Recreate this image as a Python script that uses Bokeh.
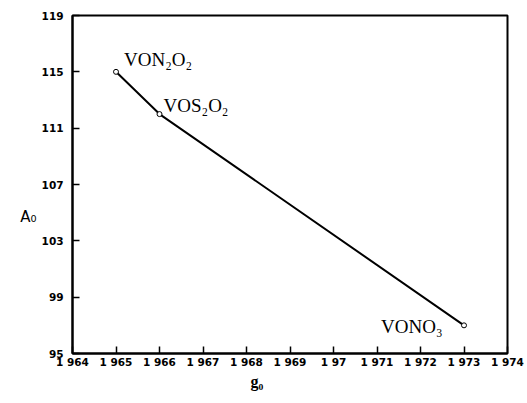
from bokeh.plotting import figure
from bokeh.models import FixedTicker, Label, Range1d, Title
from bokeh.embed import file_html
from bokeh.resources import INLINE

g0 = [1.965, 1.966, 1.973]
A0 = [115, 112, 97]
names = ["VON\u2082O\u2082", "VOS\u2082O\u2082", "VONO\u2083"]

x_ticks = [1.964, 1.965, 1.966, 1.967, 1.968, 1.969, 1.970, 1.971, 1.972, 1.973, 1.974]
x_tick_labels = ["1 964", "1 965", "1 966", "1 967", "1 968", "1 969", "1 97", "1 971", "1 972", "1 973", "1 974"]
y_ticks = [95, 99, 103, 107, 111, 115, 119]

p = figure(width=527, height=403, output_backend="svg", toolbar_location=None,
           x_range=Range1d(1.964, 1.974), y_range=Range1d(95, 119))
p.min_border_left = 72
p.min_border_right = 20
p.min_border_top = 15
p.min_border_bottom = 50
p.background_fill_color = "white"
p.border_fill_color = "white"
p.outline_line_color = "black"
p.outline_line_width = 2
p.grid.visible = False

for ax in (p.xaxis[0], p.yaxis[0]):
    ax.axis_line_width = 2
    ax.major_tick_in = 7
    ax.major_tick_out = 0
    ax.minor_tick_line_color = None
    ax.major_tick_line_width = 1.5
    ax.major_label_text_font = "DejaVu Sans"
    ax.major_label_text_font_style = "bold"
    ax.major_label_text_font_size = "10.5px"
    ax.major_label_text_color = "black"

p.xaxis[0].ticker = FixedTicker(ticks=x_ticks)
p.xaxis[0].major_label_overrides = {t: l for t, l in zip(x_ticks, x_tick_labels)}
p.xaxis[0].major_label_standoff = 2
p.yaxis[0].ticker = FixedTicker(ticks=y_ticks)
p.yaxis[0].major_label_standoff = 9

yax = p.yaxis[0]
yax.axis_label = "\n\n\nA\u2080"
yax.axis_label_text_font = "DejaVu Sans"
yax.axis_label_text_font_style = "normal"
yax.axis_label_text_font_size = "15px"
yax.axis_label_text_color = "black"
yax.axis_label_standoff = 2
try:
    yax.axis_label_orientation = "horizontal"
except Exception:
    pass

p.add_layout(Title(text="g\u2080", align="left", offset=178, standoff=0,
                   text_font="Liberation Serif", text_font_style="bold",
                   text_font_size="16px", text_color="black"), "below")

p.line(g0, A0, line_color="black", line_width=2)
p.scatter(g0, A0, marker="circle", size=5, fill_color="white", line_color="black", line_width=1)

offsets = [(8, 2), (4, -2), (-83, -12)]
for x, y, n, (dx, dy) in zip(g0, A0, names, offsets):
    p.add_layout(Label(x=x, y=y, text=n, x_offset=dx, y_offset=dy,
                       text_font="Liberation Serif", text_font_size="19px",
                       text_color="black"))

open("out.html", "w").write(file_html(p, INLINE))
